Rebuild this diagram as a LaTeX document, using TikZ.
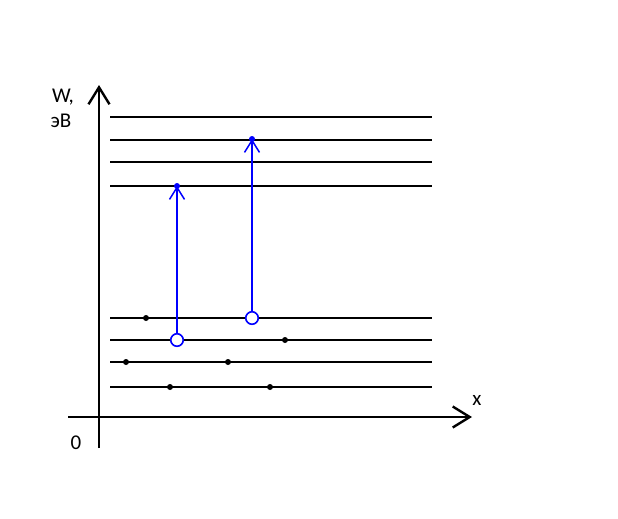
\documentclass[tikz,border=0pt]{standalone}
\usepackage{fontspec}
\setmainfont{Carlito}
\usetikzlibrary{arrows.meta}
\begin{document}
\begin{tikzpicture}[x=1pt,y=-1pt,font=\fontsize{21}{23}\selectfont,
  level/.style={line width=1.8pt},
  axis/.style={line width=2.4pt,-{Straight Barb[length=17pt,width=21pt,line width=2.4pt]}},
  jump/.style={blue,line width=1.5pt,-{Straight Barb[length=12pt,width=15pt,line width=1.5pt]}},
  hole/.style={circle,draw=blue,fill=white,line width=1.6pt,minimum size=12.5pt,inner sep=0pt}]
  \useasboundingbox (0,0) rectangle (618,519);
  % оси
  \coordinate (o) at (99,417);
  \coordinate (ybot) at (99,448);
  \coordinate (ytop) at (99,85);
  \coordinate (xleft) at (68,417);
  \coordinate (xright) at (472,417);
  \draw[axis] (ybot) -- (ytop);
  \draw[axis] (xleft) -- (xright);
  \node (wlab) at (63,97) {W,};
  \node (evlab) at (61,121) {эВ};
  \node (zero) at (76,443) {0};
  \node (xlab) at (477,400) {x};
  % уровни энергии
  \foreach \yy in {117,140,162,186,318,340,362,387}
    \draw[level] (110,\yy) -- (432,\yy);
  % электроны на нижних уровнях
  \foreach \xx/\yy in {146/318,285/340,126/362,228/362,170/387,270/387}
    \fill (\xx,\yy) circle (3pt);
  % переходы
  \node[hole] (h1) at (177,340) {};
  \node[hole] (h2) at (252,318) {};
  \coordinate (e1) at (177,186);
  \coordinate (e2) at (252,139);
  \draw[jump] (h1) -- (e1);
  \draw[jump] (h2) -- (e2);
  \fill[blue] (e1) circle (3pt);
  \fill[blue] (e2) circle (3pt);
\end{tikzpicture}
\end{document}
